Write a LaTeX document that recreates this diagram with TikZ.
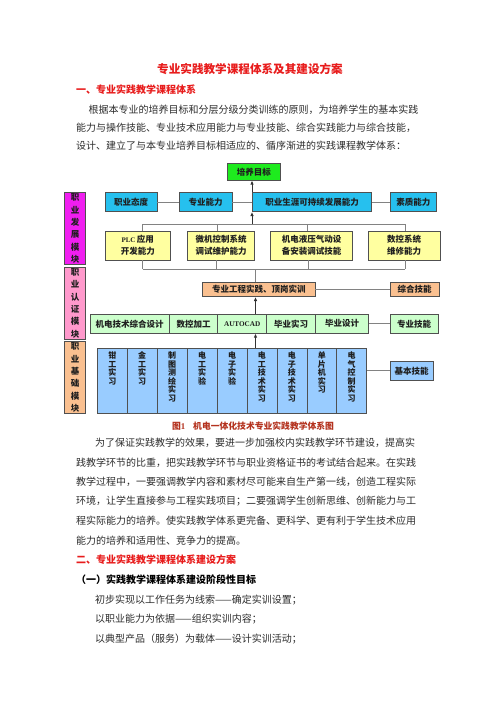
\documentclass[tikz,border=0pt]{standalone}
\usepackage{fontspec}
\setmainfont{Liberation Serif}
\newfontfamily\cjk{Noto Sans CJK SC}
\newfontfamily\lat{Liberation Serif}
\usetikzlibrary{arrows.meta}
\definecolor{titred}{RGB}{232,28,28}
\definecolor{capred}{RGB}{180,50,30}
\definecolor{bodytxt}{RGB}{45,45,45}
\definecolor{gbox}{RGB}{30,235,30}
\definecolor{cbox}{RGB}{38,192,238}
\definecolor{ybox}{RGB}{255,255,160}
\definecolor{obox}{RGB}{250,192,144}
\definecolor{lgbox}{RGB}{204,255,204}
\definecolor{bbox}{RGB}{153,204,255}
\definecolor{mbox}{RGB}{240,30,240}
\definecolor{pbox}{RGB}{255,153,204}
\definecolor{edgec}{RGB}{80,80,80}
\definecolor{connc}{RGB}{130,130,130}
\newcommand\bx[7]{\node[box,fill=#6,minimum width={(#4-#2)*1pt},minimum height={(#5-#3)*1pt}] (#1) at ({(#2+#4)/2},{(#3+#5)/2}) {#7};}
\tikzset{
  box/.style={draw=edgec,line width=0.6pt,inner sep=0pt,align=center,
    font=\cjk\bfseries\fontsize{8.5}{12.3}\selectfont,text=black!88},
  cn/.style={draw=connc,line width=0.8pt},
  ar/.style={draw=black!80,line width=0.8pt,-{Latex[length=4pt,width=3.5pt]}},
  body/.style={anchor=west,inner sep=0pt,font=\cjk\fontsize{10}{12}\selectfont,text=bodytxt},
  head/.style={anchor=west,inner sep=0pt,font=\cjk\bfseries\fontsize{10}{12}\selectfont,text=titred},
  vt/.style={anchor=north,inner sep=0pt,align=center,font=\cjk\bfseries\fontsize{8}{8.6}\selectfont,text=black!88},
  modlbl/.style={box,font=\cjk\bfseries\fontsize{8.5}{11.3}\selectfont}
}
\begin{document}
\begin{tikzpicture}[x=1pt,y=-1pt]
\useasboundingbox (0,0) rectangle (500,707);
\fill[white] (0,0) rectangle (500,707);
% ---------- texts ----------
\node[inner sep=0pt,font=\cjk\bfseries\fontsize{11.6}{14}\selectfont,text=titred] (title) at (250,69) {专业实践教学课程体系及其建设方案};
\node[head] (h1) at (76,90) {一、专业实践教学课程体系};
\node[body] (p11) at (88.3,110) {根据本专业的培养目标和分层分级分类训练的原则，为培养学生的基本实践};
\node[body] (p12) at (76,127.7) {能力与操作技能、专业技术应用能力与专业技能、综合实践能力与综合技能，};
\node[body] (p13) at (76,145.5) {设计、建立了与本专业培养目标相适应的、循序渐进的实践课程教学体系：};
\node[inner sep=0pt,font=\cjk\bfseries\fontsize{8.8}{10}\selectfont,text=capred] (cap) at (253,425.7) {图{\lat\bfseries 1}\hspace{8pt}机电一体化技术专业实践教学体系图};
\node[body] (p21) at (95,443) {为了保证实践教学的效果，要进一步加强校内实践教学环节建设，提高实};
\node[body] (p22) at (76,462.5) {践教学环节的比重，把实践教学环节与职业资格证书的考试结合起来。在实践};
\node[body] (p23) at (76,482) {教学过程中，一要强调教学内容和素材尽可能来自生产第一线，创造工程实际};
\node[body] (p24) at (76,501.5) {环境，让学生直接参与工程实践项目；二要强调学生创新思维、创新能力与工};
\node[body] (p25) at (76,521) {程实际能力的培养。使实践教学体系更完备、更科学、更有利于学生技术应用};
\node[body] (p26) at (76,540.5) {能力的培养和适用性、竞争力的提高。};
\node[head] (h2) at (76,560) {二、专业实践教学课程体系建设方案};
\node[head,text=black] (h3) at (76,580) {（一）实践教学课程体系建设阶段性目标};
\node[body] (p31) at (95,600) {初步实现以工作任务为线索——确定实训设置；};
\node[body] (p32) at (95,619.5) {以职业能力为依据——组织实训内容；};
\node[body] (p33) at (95,639) {以典型产品（服务）为载体——设计实训活动；};
% ---------- diagram ----------
\bx{pymb}{227.7}{163.3}{280}{180.3}{gbox}{培养目标}
\bx{zytd}{105}{192.7}{157}{211.7}{cbox}{职业态度}
\bx{zynl}{179.3}{192.7}{232}{211.7}{cbox}{专业能力}
\bx{zysy}{252.3}{192.7}{371.7}{211.7}{cbox}{职业生涯可持续发展能力}
\bx{sznl}{390}{192.7}{436.7}{211.7}{cbox}{素质能力}
\bx{plc}{105}{231}{170.5}{260}{ybox}{{\lat\bfseries\fontsize{7}{8}\selectfont PLC}\,应用\\开发能力}
\bx{wj}{187.7}{231}{254.3}{260}{ybox}{微机控制系统\\调试维护能力}
\bx{jd}{270.7}{231}{352.3}{260}{ybox}{机电液压气动设\\备安装调试技能}
\bx{sk}{368.3}{231}{440}{260}{ybox}{数控系统\\维修能力}
\bx{gc}{202.7}{282.3}{315}{296.7}{obox}{专业工程实践、顶岗实训}
\bx{zh}{390}{282.3}{439}{296.7}{obox}{综合技能}
\bx{c1}{90}{314.3}{169.3}{333.3}{lgbox}{机电技术综合设计}
\bx{c2}{169.3}{314.3}{217.7}{333.3}{lgbox}{数控加工}
\bx{c3}{217.7}{314.3}{266.7}{333.3}{lgbox}{{\lat\bfseries\fontsize{7.2}{8}\selectfont AUTOCAD}}
\bx{c4}{266.7}{314.3}{315.7}{333.3}{lgbox}{毕业实习}
\bx{c5}{315.7}{314.3}{368.3}{333.3}{lgbox}{毕业设计}
\bx{zj}{390}{314.3}{438.3}{333.3}{lgbox}{专业技能}
\bx{jb}{390}{361.7}{433.3}{380}{bbox}{基本技能}
\foreach \lbl [count=\i] in {{钳\\工\\实\\习},{金\\工\\实\\习},{制\\图\\测\\绘\\实\\习},{电\\工\\实\\验},{电\\子\\实\\验},{电\\工\\技\\术\\实\\习},{电\\子\\技\\术\\实\\习},{单\\片\\机\\实\\习},{电\\气\\控\\制\\实\\习}}{
  \node[box,fill=bbox,minimum width=29.933pt,minimum height=65pt] (b\i) at ({97.3+29.933*(\i-1)+14.967},380.8) {};
  \node[vt] (l\i) at ([yshift=-3.5pt]b\i.north) {\lbl};
}
\bx{m1}{64.3}{192.7}{85.7}{264.3}{mbox}{职\\业\\发\\展\\模\\块}
\bx{m2}{64.3}{267.3}{85.7}{339.3}{pbox}{职\\业\\认\\证\\模\\块}
\bx{m3}{64.3}{341.7}{85.7}{413.3}{obox}{职\\业\\基\\础\\模\\块}
% ---------- connectors ----------
\coordinate (sp) at (255.5,0);
\coordinate (t1) at (142.7,224.3);
\coordinate (t2) at (217.3,224.3);
\coordinate (t3) at (307.7,224.3);
\coordinate (t4) at (405,224.3);
\coordinate (u1) at (142.7,269.3);
\coordinate (u2) at (216.7,269.3);
\coordinate (u3) at (308,269.3);
\coordinate (u4) at (405,269.3);
\draw[cn] (zytd.east) -- (zynl.west);
\draw[cn] (zynl.east) -- (zysy.west);
\draw[cn] (zysy.east) -- (sznl.west);
\draw[ar] (zysy.north west) -- (zysy.north west |- pymb.south);
\draw[cn] (t1) -- (t4);
\draw[cn] (t1) -- (t1 |- plc.north);
\draw[cn] (t2) -- (t2 |- wj.north);
\draw[cn] (t3) -- (t3 |- jd.north);
\draw[cn] (t4) -- (t4 |- sk.north);
\draw[ar] (zysy.south west |- t1) -- (zysy.south west);
\draw[cn] (u1) -- (u4);
\draw[cn] (u1 |- plc.south) -- (u1);
\draw[cn] (u2 |- wj.south) -- (u2);
\draw[cn] (u3 |- jd.south) -- (u3);
\draw[cn] (u4 |- sk.south) -- (u4);
\draw[cn] (sp |- u1) -- (sp |- gc.north);
\draw[cn] (gc.east) -- (zh.west);
\draw[ar] (sp |- c3.north) -- (sp |- gc.south);
\draw[cn] (c5.east) -- (zj.west);
\draw[ar] (sp |- b6.north) -- (sp |- c3.south);
\draw[cn] (b9.east |- jb.west) -- (jb.west);
\end{tikzpicture}
\end{document}
